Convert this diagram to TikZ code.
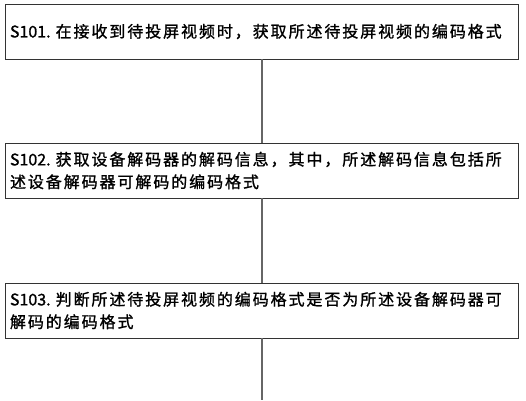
\documentclass[tikz,border=0pt]{standalone}
\usepackage{fontspec}
\newfontfamily\cjk[LetterSpace=12, FakeBold=1.2]{Noto Sans CJK SC}
\newfontfamily\steplabel[FakeBold=1.2]{Noto Sans CJK SC}
\newcommand{\stepno}[1]{{\steplabel #1}\hspace{5pt}}
\usetikzlibrary{positioning}
\begin{document}
\begin{tikzpicture}[x=1pt, y=1pt,
            every node/.style = {inner sep = 0pt,
                                outer sep = 0pt},
            stepbox/.style    = {draw = black!80,
                                line width = 1pt,
                                minimum width  = 513pt,
                                minimum height = 55pt,
                                text width = 503pt,
                                inner xsep = 5pt,
                                align = left,
                                font = \cjk\fontsize{16}{22.5}\selectfont},
            link/.style       = {draw = black!60,
                                line width = 2pt}
            ]
    \useasboundingbox (0,0) rectangle (526,-400);
    \coordinate (bottom) at (0,-400);

    \node [stepbox] (s101) at (261.5,-31.5)
        {\stepno{S101.}在接收到待投屏视频时，获取所述待投屏视频的编码格式};
    \node [stepbox, below = 84pt of s101] (s102)
        {\stepno{S102.}获取设备解码器的解码信息，其中，所述解码信息包括所\\述设备解码器可解码的编码格式};
    \node [stepbox, below = 85pt of s102] (s103)
        {\stepno{S103.}判断所述待投屏视频的编码格式是否为所述设备解码器可\\解码的编码格式};

    \draw [link] (s101) -- (s102);
    \draw [link] (s102) -- (s103);
    \draw [link] (s103) -- (s103.south |- bottom);
\end{tikzpicture}
\end{document}
